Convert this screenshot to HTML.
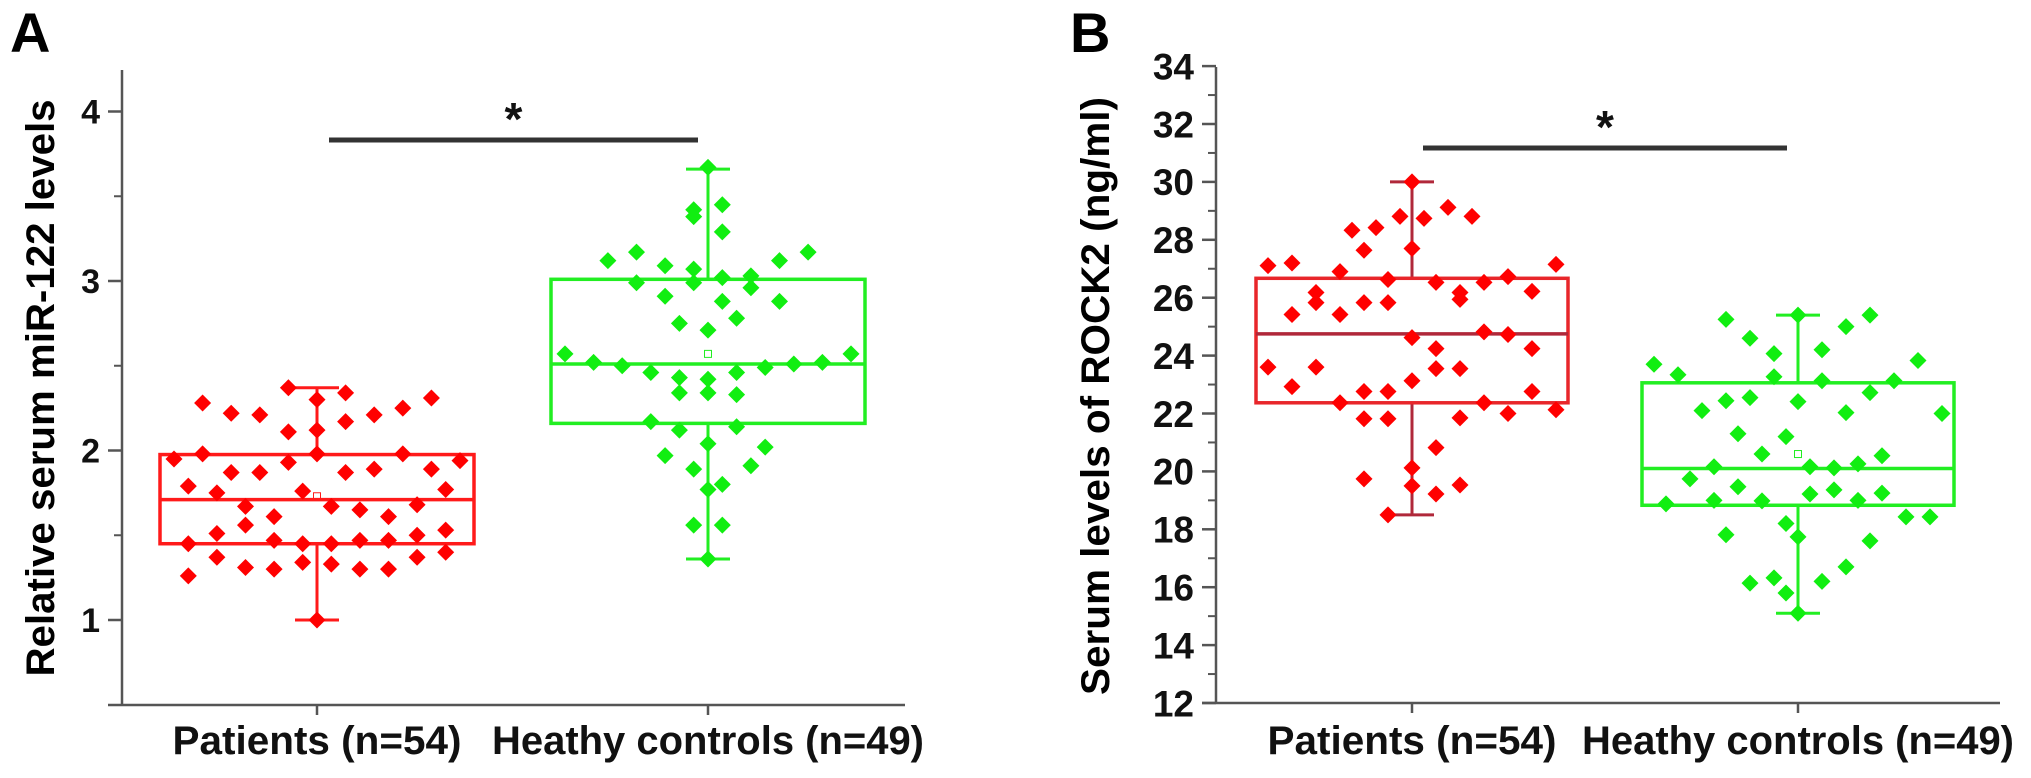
<!DOCTYPE html>
<html><head><meta charset="utf-8"><style>
html,body{margin:0;padding:0;background:#fff;}
svg{display:block;font-family:"Liberation Sans",Arial,sans-serif;}
</style></head><body>
<svg id="fig" width="2031" height="778" viewBox="0 0 2031 778" xmlns="http://www.w3.org/2000/svg">
<text x="10" y="52" font-size="56" font-weight="bold">A</text>
<text x="1070" y="52" font-size="56" font-weight="bold">B</text>
<text transform="translate(54,388) rotate(-90)" text-anchor="middle" font-size="40" font-weight="bold" textLength="577" lengthAdjust="spacingAndGlyphs">Relative serum miR-122 levels</text>
<text transform="translate(1109,396) rotate(-90)" text-anchor="middle" font-size="40" font-weight="bold" textLength="598" lengthAdjust="spacingAndGlyphs">Serum levels of ROCK2 (ng/ml)</text>
<g id="ga"></g>
<g id="gb"></g>
</svg>
<script>
// Panel A data
const catsA = ["Patients (n=54)", "Heathy controls (n=49)"];
const ticksA = [1, 2, 3, 4];
const boxRedA = [1.0, 1.45, 1.71, 1.976, 2.37];     // min,q1,median,q3,max
const boxGreenA = [1.36, 2.16, 2.51, 3.01, 3.66];
const meanA = [1.73, 2.57];
const redValsA = [2.28,2.22,2.21,2.37,2.11,2.30,2.12,2.34,2.17,2.21,2.25,2.31,
 1.95,1.98,1.87,1.87,1.93,1.98,1.87,1.89,1.98,1.89,1.94,
 1.79,1.75,1.67,1.61,1.76,1.67,1.65,1.61,1.68,1.77,
 1.51,1.56,1.45,1.47,1.45,1.45,1.47,1.47,1.50,1.53,
 1.37,1.31,1.30,1.34,1.33,1.30,1.30,1.37,1.40,1.26,1.0];
const redJitA = [-8,-6,-4,-2,-2,0,0,2,2,4,6,8,
 -10,-8,-6,-4,-2,0,2,4,6,8,10,
 -9,-7,-5,-3,-1,1,3,5,7,9,
 -7,-5,-9,-3,-1,1,3,5,7,9,
 -7,-5,-3,-1,1,3,5,7,9,-9,0];
const greenValsA = [3.67,3.42,3.38,3.45,3.29,3.12,3.17,3.09,3.07,3.12,3.17,
 2.99,2.99,3.02,3.03,2.96,2.91,2.88,2.88,2.75,2.71,2.78,
 2.57,2.52,2.50,2.46,2.43,2.42,2.46,2.49,2.51,2.52,2.57,
 2.34,2.34,2.33,2.17,2.12,2.14,2.04,2.02,1.97,1.89,1.91,1.77,1.80,1.56,1.56,1.36];
const greenJitA = [0,-1,-1,1,1,-7,-5,-3,-1,5,7,
 -5,-1,1,3,3,-3,1,5,-2,0,2,
 -10,-8,-6,-4,-2,0,2,4,6,8,10,
 -2,0,2,-4,-2,2,0,4,-3,-1,3,0,1,-1,1,0];

// Panel B data
const catsB = ["Patients (n=54)", "Heathy controls (n=49)"];
const ticksB = [12,14,16,18,20,22,24,26,28,30,32,34];
const boxRedB = [18.5, 22.37, 24.75, 26.67, 30.0];
const boxGreenB = [15.1, 18.83, 20.1, 23.06, 25.4];
const meanB = [24.6, 20.6];
const redValsB = [27.11,27.2,26.9,28.33,28.42,28.81,28.74,29.12,28.81,27.64,27.70,30.0,
 25.42,26.18,25.83,25.42,25.83,26.63,25.83,26.53,26.18,25.94,26.53,26.73,26.22,27.15,
 24.62,24.24,24.82,24.73,24.24,
 23.6,23.6,22.93,23.13,23.55,23.55,22.76,22.37,22.76,22.76,22.37,
 21.82,21.82,21.85,22.0,22.13,20.82,20.12,19.74,19.5,19.22,19.53,18.5];
const redJitB = [-12,-10,-6,-5,-3,-1,1,3,5,-4,0,0,
 -10,-8,-8,-6,-4,-2,-2,2,4,4,6,8,10,12,
 0,2,6,8,10,
 -12,-8,-10,0,2,4,10,-6,-4,-2,6,
 -4,-2,4,8,12,2,0,-4,0,2,4,-2];
const greenValsB = [25.4,25.25,24.6,24.07,24.2,25.0,25.4,
 23.7,23.34,23.27,23.13,23.13,23.83,
 22.1,22.44,22.55,22.41,22.03,22.72,22.0,
 21.3,21.2,20.6,20.54,20.16,20.16,20.12,20.26,
 19.74,19.47,19.22,19.36,19.25,18.88,19.0,18.98,19.0,
 18.2,18.43,18.43,17.81,17.74,17.6,16.7,16.14,16.32,16.2,15.8,15.1];
const greenJitB = [0,-6,-4,-2,2,4,6,
 -12,-10,-2,2,8,10,
 -8,-6,-4,0,4,6,12,
 -5,-1,-3,7,-7,1,3,5,
 -9,-5,1,3,7,-11,-7,-3,5,
 -1,9,11,-6,0,6,4,-4,-2,2,-1,0];

const NS = "http://www.w3.org/2000/svg";
function mk(parent, tag, attrs) {
  const e = document.createElementNS(NS, tag);
  for (const k in attrs) e.setAttribute(k, attrs[k]);
  parent.appendChild(e);
  return e;
}

function drawPanel(g, cfg) {
  const y = v => cfg.y0 - (v - cfg.vmin) * cfg.pxPerUnit;
  const ya = mk(g, "line", {x1: cfg.ax, y1: cfg.axTop, x2: cfg.ax, y2: cfg.axBot, stroke: "#555", "stroke-width": 2.5});
  
  
  const xa = mk(g, "line", {x1: cfg.ax - 14, y1: cfg.axBot, x2: cfg.axRight, y2: cfg.axBot, stroke: "#555", "stroke-width": 2.5});
  
  
  for (let v = cfg.minorStart; v <= cfg.vmaxTick + 1e-9; v += cfg.minorStep) {
    const t = mk(g, "line", {x1: cfg.ax - 8, y1: y(v), x2: cfg.ax, y2: y(v), stroke: "#555", "stroke-width": 2});
    
    
  }
  cfg.ticks.forEach(v => {
    const t = mk(g, "line", {x1: cfg.ax - 14, y1: y(v), x2: cfg.ax, y2: y(v), stroke: "#555", "stroke-width": 2.5});
    
    
    const lb = mk(g, "text", {x: cfg.ax - 22, y: y(v) + cfg.tickFs * 0.36, "text-anchor": "end", "font-size": cfg.tickFs, "font-weight": "bold", fill: "#111"});
    lb.textContent = v;
    
    
  });
  cfg.cats.forEach((c, i) => {
    const cx = cfg.cx[i];
    const t = mk(g, "line", {x1: cx, y1: cfg.axBot, x2: cx, y2: cfg.axBot + 10, stroke: "#555", "stroke-width": 2.5});
    
    
    const lb = mk(g, "text", {x: cx, y: 754, "text-anchor": "middle", "font-size": 40, "font-weight": "bold", fill: "#111", textLength: cfg.labelW[i], lengthAdjust: "spacingAndGlyphs"});
    lb.textContent = c;
    
    
  });
  cfg.boxes.forEach((b, i) => {
    const cx = cfg.cx[i], hw = cfg.boxHalf, col = cfg.colors[i], mcol = cfg.medColors[i];
    const wl = mk(g, "line", {x1: cx, y1: y(b[0]), x2: cx, y2: y(b[4]), stroke: mcol, "stroke-width": 3});
    
    
    [b[0], b[4]].forEach(v => {
      const c = mk(g, "line", {x1: cx - 22, y1: y(v), x2: cx + 22, y2: y(v), stroke: mcol, "stroke-width": 3});
      
      
    });
    const r = mk(g, "rect", {x: cx - hw, y: y(b[3]), width: 2 * hw, height: y(b[1]) - y(b[3]), fill: "#fff", stroke: col, "stroke-width": 3.5});
    
    
    const m = mk(g, "line", {x1: cx - hw, y1: y(b[2]), x2: cx + hw, y2: y(b[2]), stroke: mcol, "stroke-width": 3.5});
    
    
    const mn = mk(g, "rect", {x: cx - 3.5, y: y(cfg.means[i]) - 3.5, width: 7, height: 7, fill: "none", stroke: col, "stroke-width": 1});
    
    
  });
  cfg.series.forEach((s, i) => {
    s.vals.forEach((v, j) => {
      const px = cfg.cx[i] + s.jit[j] * cfg.jitStep, py = y(v), r = 8.5;
      const p = mk(g, "polygon", {points: `${px},${py - r} ${px + r},${py} ${px},${py + r} ${px - r},${py}`, fill: s.color});
      
      
    });
  });
  const sb = mk(g, "line", {x1: cfg.sig[0], y1: cfg.sig[2], x2: cfg.sig[1], y2: cfg.sig[2], stroke: "#333", "stroke-width": 5});
  
  
  const st = mk(g, "text", {x: (cfg.sig[0] + cfg.sig[1]) / 2, y: cfg.sig[2] - 5, "text-anchor": "middle", "font-size": 46, "font-weight": "bold", fill: "#111"});
  st.textContent = "*";
  
  
}

drawPanel(document.getElementById("ga"), {
  vmin: 1, y0: 620, pxPerUnit: 169.5, ax: 122, axTop: 70, axBot: 705, axRight: 905,
  ticks: ticksA, minorStart: 1.5, minorStep: 1, vmaxTick: 3.5, cats: catsA, cx: [317, 708],
  labelW: [289, 432], tickFs: 34,
  boxes: [boxRedA, boxGreenA], means: meanA, boxHalf: 157,
  colors: ["#ff1a1a", "#22ee22"], medColors: ["#ff1a1a", "#22ee22"],
  series: [{vals: redValsA, jit: redJitA, color: "#ff0000"}, {vals: greenValsA, jit: greenJitA, color: "#11ee11"}],
  jitStep: 14.3, sig: [329, 698, 140]
});
drawPanel(document.getElementById("gb"), {
  vmin: 12, y0: 703, pxPerUnit: 28.95, ax: 1216, axTop: 67, axBot: 703, axRight: 2000,
  ticks: ticksB, minorStart: 13, minorStep: 2, vmaxTick: 33, cats: catsB, cx: [1412, 1798],
  labelW: [289, 432], tickFs: 37,
  boxes: [boxRedB, boxGreenB], means: meanB, boxHalf: 156,
  colors: ["#e8262a", "#22ee22"], medColors: ["#b0283a", "#22ee22"],
  series: [{vals: redValsB, jit: redJitB, color: "#ff0000"}, {vals: greenValsB, jit: greenJitB, color: "#11ee11"}],
  jitStep: 12, sig: [1423, 1787, 148]
});
</script>
</body></html>
